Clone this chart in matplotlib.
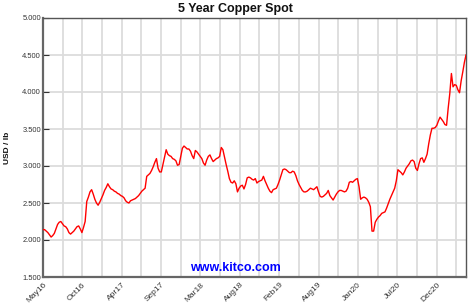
import matplotlib
matplotlib.use("Agg")
import matplotlib.pyplot as plt
import matplotlib.dates as mdates
import pandas as pd

# ---- data (weekly copper spot, USD/lb) ----
start_date = "2016-05-01"
prices = [
    2.14, 2.14, 2.12, 2.10, 2.07, 2.04, 2.06, 2.09, 2.15, 2.21,
    2.24, 2.25, 2.22, 2.19, 2.18, 2.15, 2.10, 2.08, 2.10, 2.12,
    2.15, 2.18, 2.19, 2.15, 2.10, 2.17, 2.25, 2.52, 2.58, 2.65,
    2.68, 2.62, 2.55, 2.50, 2.47, 2.51, 2.56, 2.61, 2.67, 2.71,
    2.76, 2.72, 2.69, 2.68, 2.66, 2.65, 2.63, 2.62, 2.60, 2.59,
    2.57, 2.53, 2.51, 2.50, 2.53, 2.54, 2.55, 2.56, 2.58, 2.60,
    2.63, 2.66, 2.68, 2.70, 2.86, 2.88, 2.90, 2.94, 2.99, 3.05,
    3.10, 2.97, 2.92, 2.92, 3.02, 3.12, 3.22, 3.16, 3.14, 3.13,
    3.10, 3.09, 3.07, 3.01, 3.02, 3.13, 3.24, 3.27, 3.25, 3.23,
    3.23, 3.20, 3.14, 3.10, 3.21, 3.19, 3.16, 3.13, 3.10, 3.04,
    3.01, 3.08, 3.13, 3.15, 3.10, 3.06, 3.08, 3.10, 3.11, 3.13,
    3.25, 3.22, 3.12, 3.02, 2.93, 2.83, 2.78, 2.77, 2.80, 2.76,
    2.65, 2.70, 2.73, 2.74, 2.69, 2.75, 2.84, 2.85, 2.84, 2.82,
    2.81, 2.83, 2.77, 2.79, 2.80, 2.81, 2.86, 2.80, 2.75, 2.70,
    2.66, 2.64, 2.68, 2.69, 2.70, 2.75, 2.81, 2.88, 2.95, 2.96,
    2.95, 2.93, 2.91, 2.91, 2.93, 2.92, 2.87, 2.80, 2.75, 2.71,
    2.67, 2.65, 2.65, 2.66, 2.68, 2.70, 2.69, 2.68, 2.70, 2.72,
    2.65, 2.59, 2.58, 2.59, 2.61, 2.63, 2.67, 2.60, 2.57, 2.54,
    2.58, 2.62, 2.65, 2.67, 2.67, 2.66, 2.65, 2.66, 2.70, 2.78,
    2.79, 2.78, 2.80, 2.82, 2.83, 2.72, 2.55, 2.57, 2.58, 2.57,
    2.55, 2.51, 2.45, 2.12, 2.12, 2.24, 2.28, 2.31, 2.33, 2.36,
    2.37, 2.38, 2.43, 2.49, 2.55, 2.60, 2.65, 2.70, 2.80, 2.95,
    2.93, 2.91, 2.88, 2.92, 2.97, 3.00, 3.03, 3.07, 3.08, 3.06,
    2.97, 2.94, 3.03, 3.10, 3.11, 3.05, 3.10, 3.16, 3.30, 3.42,
    3.51, 3.51, 3.52, 3.55, 3.61, 3.66, 3.63, 3.60, 3.56, 3.55,
    3.78, 3.98, 4.25, 4.07, 4.10, 4.09, 4.03, 3.99, 4.15, 4.27,
    4.40, 4.50,
]
y_ticks = [1.5, 2.0, 2.5, 3.0, 3.5, 4.0, 4.5, 5.0]
y_tick_labels = ["1.500", "2.000", "2.500", "3.000", "3.500", "4.000", "4.500", "5.000"]
grid_step_days = 85
n_grid = 22
title = "5 Year Copper Spot"
y_label = "USD / lb"
watermark = "www.kitco.com"

dates = pd.date_range(start_date, periods=len(prices), freq="7D")
t0 = pd.Timestamp(start_date)
grid_dates = [t0 + pd.Timedelta(days=grid_step_days * k) for k in range(n_grid)]
label_dates = grid_dates[::2]
x_end = t0 + pd.Timedelta(days=1827)

fig = plt.figure(figsize=(4.70, 3.03), dpi=100)
ax = fig.add_axes([43 / 470, 26 / 303, 423 / 470, 259 / 303])

ax.plot(dates, prices, color="#ff0000", lw=1.0, zorder=3)

ax.set_xlim(t0, x_end)
ax.set_ylim(1.5, 5.0)

ax.set_yticks(y_ticks)
ax.set_yticklabels(y_tick_labels)
ax.xaxis.set_major_locator(matplotlib.ticker.FixedLocator(mdates.date2num(label_dates)))
ax.xaxis.set_minor_locator(matplotlib.ticker.FixedLocator(mdates.date2num(grid_dates)))
ax.xaxis.set_major_formatter(mdates.DateFormatter("%b%y"))

ax.grid(True, which="both", axis="x", color="#dcdcdc", lw=1.3, zorder=0)
ax.grid(True, which="major", axis="y", color="#dcdcdc", lw=1.3, zorder=0)
ax.set_axisbelow(True)

ax.tick_params(axis="y", which="major", labelsize=5.4, colors="#333333",
               length=4, width=0.8, pad=1.5, direction="in")
ax.tick_params(axis="x", which="major", labelsize=6.0, colors="#333333",
               length=0, pad=3)
ax.tick_params(axis="x", which="minor", length=0)
for lab in ax.get_yticklabels():
    lab.set_family("Liberation Sans")
for lab in ax.get_xticklabels():
    lab.set_family("Liberation Sans")
    lab.set_rotation(45)
    lab.set_ha("right")
    lab.set_va("top")
    lab.set_rotation_mode("anchor")

for side in ["left", "bottom"]:
    ax.spines[side].set_color("#666666")
    ax.spines[side].set_linewidth(1.6)
for side in ["top", "right"]:
    ax.spines[side].set_color("#555555")
    ax.spines[side].set_linewidth(1.0)

ax.set_ylabel(y_label, fontsize=6.0, fontweight="bold", color="#111111",
              family="Liberation Sans")
ax.yaxis.set_label_coords((11 - 43) / 423, 0.5)

fig.text(0.5, 1 - 9 / 303, title, ha="center", va="center",
         fontsize=9, fontweight="bold", family="Liberation Sans", color="#111111")
fig.text(235.5 / 470, 1 - 268 / 303, watermark, ha="center", va="center",
         fontsize=9, fontweight="bold", family="Liberation Sans", color="#0000ff")

fig.savefig("out.png", dpi=100, facecolor="white")
